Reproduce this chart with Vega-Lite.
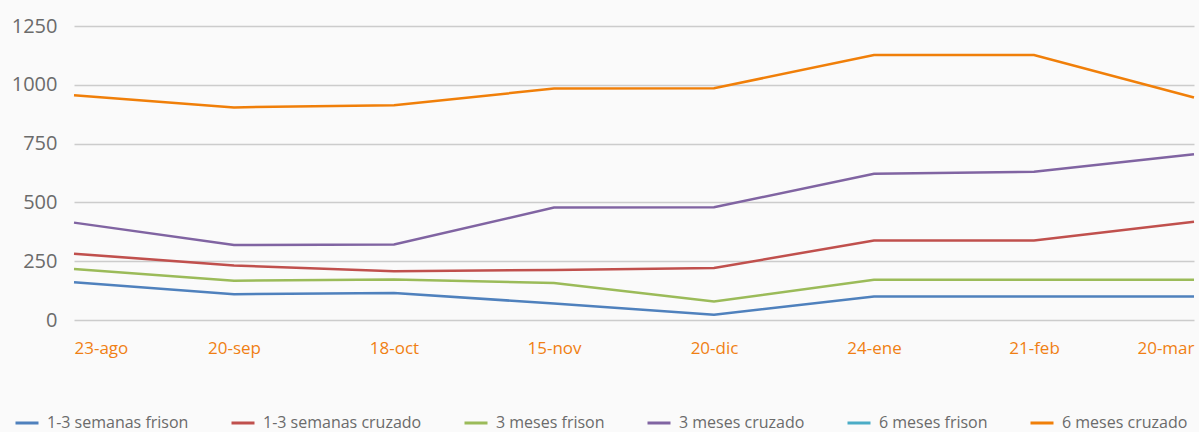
{
  "$schema": "https://vega.github.io/schema/vega-lite/v6.json",
  "width": 1120,
  "height": 294,
  "autosize": {"type": "none"},
  "padding": {"left": 74, "top": 26, "right": 5, "bottom": 112},
  "background": "#fafafa",
  "config": {
    "view": {"stroke": null},
    "font": "Open Sans"
  },
  "data": {
    "values": [
      {"fecha": "23-ago", "serie": "1-3 semanas frison", "valor": 161},
      {"fecha": "20-sep", "serie": "1-3 semanas frison", "valor": 110},
      {"fecha": "18-oct", "serie": "1-3 semanas frison", "valor": 115},
      {"fecha": "15-nov", "serie": "1-3 semanas frison", "valor": 70},
      {"fecha": "20-dic", "serie": "1-3 semanas frison", "valor": 22},
      {"fecha": "24-ene", "serie": "1-3 semanas frison", "valor": 100},
      {"fecha": "21-feb", "serie": "1-3 semanas frison", "valor": 100},
      {"fecha": "20-mar", "serie": "1-3 semanas frison", "valor": 100},
      {"fecha": "23-ago", "serie": "1-3 semanas cruzado", "valor": 282},
      {"fecha": "20-sep", "serie": "1-3 semanas cruzado", "valor": 232},
      {"fecha": "18-oct", "serie": "1-3 semanas cruzado", "valor": 207},
      {"fecha": "15-nov", "serie": "1-3 semanas cruzado", "valor": 213},
      {"fecha": "20-dic", "serie": "1-3 semanas cruzado", "valor": 221},
      {"fecha": "24-ene", "serie": "1-3 semanas cruzado", "valor": 338},
      {"fecha": "21-feb", "serie": "1-3 semanas cruzado", "valor": 338},
      {"fecha": "20-mar", "serie": "1-3 semanas cruzado", "valor": 418},
      {"fecha": "23-ago", "serie": "3 meses frison", "valor": 217},
      {"fecha": "20-sep", "serie": "3 meses frison", "valor": 167},
      {"fecha": "18-oct", "serie": "3 meses frison", "valor": 172},
      {"fecha": "15-nov", "serie": "3 meses frison", "valor": 157},
      {"fecha": "20-dic", "serie": "3 meses frison", "valor": 79},
      {"fecha": "24-ene", "serie": "3 meses frison", "valor": 171},
      {"fecha": "21-feb", "serie": "3 meses frison", "valor": 171},
      {"fecha": "20-mar", "serie": "3 meses frison", "valor": 171},
      {"fecha": "23-ago", "serie": "3 meses cruzado", "valor": 414},
      {"fecha": "20-sep", "serie": "3 meses cruzado", "valor": 319},
      {"fecha": "18-oct", "serie": "3 meses cruzado", "valor": 321},
      {"fecha": "15-nov", "serie": "3 meses cruzado", "valor": 478},
      {"fecha": "20-dic", "serie": "3 meses cruzado", "valor": 479},
      {"fecha": "24-ene", "serie": "3 meses cruzado", "valor": 622},
      {"fecha": "21-feb", "serie": "3 meses cruzado", "valor": 630},
      {"fecha": "20-mar", "serie": "3 meses cruzado", "valor": 705},
      {"fecha": "23-ago", "serie": "6 meses cruzado", "valor": 956},
      {"fecha": "20-sep", "serie": "6 meses cruzado", "valor": 904},
      {"fecha": "18-oct", "serie": "6 meses cruzado", "valor": 913},
      {"fecha": "15-nov", "serie": "6 meses cruzado", "valor": 984},
      {"fecha": "20-dic", "serie": "6 meses cruzado", "valor": 985},
      {"fecha": "24-ene", "serie": "6 meses cruzado", "valor": 1127},
      {"fecha": "21-feb", "serie": "6 meses cruzado", "valor": 1127},
      {"fecha": "20-mar", "serie": "6 meses cruzado", "valor": 946}
    ]
  },
  "mark": {"type": "line", "strokeWidth": 2.5},
  "encoding": {
    "x": {
      "field": "fecha",
      "type": "nominal",
      "sort": null,
      "scale": {"type": "point", "padding": 0},
      "axis": {
        "title": null,
        "domain": false,
        "ticks": false,
        "labelAngle": 0,
        "labelFlush": true,
        "labelColor": "#f07f13",
        "labelFontSize": 17,
        "labelPadding": 20
      }
    },
    "y": {
      "field": "valor",
      "type": "quantitative",
      "scale": {"domain": [0, 1250], "nice": false},
      "axis": {
        "title": null,
        "values": [0, 250, 500, 750, 1000, 1250],
        "format": "d",
        "domain": false,
        "ticks": false,
        "grid": true,
        "gridColor": "#cccccc",
        "gridWidth": 1.5,
        "labelColor": "#6b6b6b",
        "labelFontSize": 20,
        "labelPadding": 17
      }
    },
    "color": {
      "field": "serie",
      "type": "nominal",
      "scale": {
        "domain": ["1-3 semanas frison", "1-3 semanas cruzado", "3 meses frison", "3 meses cruzado", "6 meses frison", "6 meses cruzado"],
        "range": ["#4f81bd", "#c0504d", "#9bbb59", "#8064a2", "#4bacc6", "#f07f09"]
      },
      "legend": {
        "title": null,
        "orient": "none",
        "direction": "horizontal",
        "legendX": -60,
        "legendY": 384,
        "symbolType": "stroke",
        "symbolSize": 529,
        "symbolStrokeWidth": 3,
        "labelFontSize": 16,
        "labelColor": "#6b6b6b",
        "labelOffset": 7,
        "columnPadding": 36
      }
    }
  }
}
